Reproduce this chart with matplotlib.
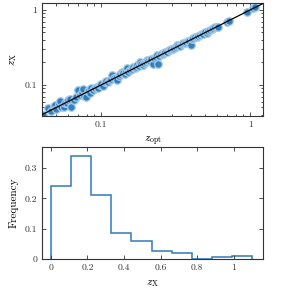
'''
Redshift comparison: scatter of z_X against z_opt and the z_X histogram.
'''

# Modules
from matplotlib import pyplot as plt
from matplotlib.ticker import FuncFormatter
import numpy as np

plt.rcParams.update({'font.family': 'serif',
                     'font.serif': ['cmr10'],
                     'mathtext.fontset': 'cm',
                     'axes.unicode_minus': False,
                     'axes.formatter.use_mathtext': True,
                     'xtick.direction': 'in',
                     'ytick.direction': 'in',
                     'xtick.top': True,
                     'ytick.right': True,
                     'axes.edgecolor': '#333333',
                     'xtick.color': '#333333',
                     'ytick.color': '#333333'})

z_opt = [0.041, 0.044, 0.046, 0.048, 0.049, 0.050, 0.052, 0.053, 0.054,
         0.056, 0.057, 0.059, 0.060, 0.062, 0.063, 0.066, 0.068, 0.070,
         0.072, 0.074, 0.076, 0.077, 0.079, 0.081, 0.083, 0.084, 0.086,
         0.088, 0.091, 0.093, 0.095, 0.098, 0.100, 0.103, 0.106, 0.108,
         0.111, 0.114, 0.117, 0.119, 0.122, 0.125, 0.128, 0.131, 0.134,
         0.138, 0.141, 0.144, 0.147, 0.149, 0.152, 0.156, 0.160, 0.164,
         0.168, 0.171, 0.174, 0.178, 0.183, 0.186, 0.190, 0.195, 0.199,
         0.203, 0.207, 0.212, 0.217, 0.223, 0.227, 0.232, 0.237, 0.241,
         0.246, 0.252, 0.258, 0.264, 0.270, 0.276, 0.283, 0.290, 0.296,
         0.303, 0.310, 0.317, 0.323, 0.330, 0.338, 0.346, 0.355, 0.363,
         0.372, 0.381, 0.390, 0.400, 0.408, 0.415, 0.425, 0.436, 0.447,
         0.460, 0.472, 0.484, 0.497, 0.510, 0.523, 0.536, 0.550, 0.565,
         0.580, 0.595, 0.610, 0.700, 0.715, 0.955, 1.040, 1.070]
z_x = [0.040, 0.049, 0.045, 0.052, 0.054, 0.047, 0.056, 0.061, 0.050,
       0.051, 0.058, 0.058, 0.063, 0.065, 0.051, 0.062, 0.070, 0.086,
       0.074, 0.078, 0.088, 0.072, 0.069, 0.083, 0.085, 0.078, 0.090,
       0.086, 0.091, 0.095, 0.092, 0.100, 0.104, 0.098, 0.108, 0.113,
       0.110, 0.117, 0.121, 0.136, 0.125, 0.122, 0.117, 0.133, 0.138,
       0.149, 0.143, 0.140, 0.155, 0.168, 0.150, 0.160, 0.163, 0.174,
       0.166, 0.172, 0.185, 0.178, 0.203, 0.188, 0.185, 0.198, 0.203,
       0.215, 0.206, 0.208, 0.222, 0.191, 0.230, 0.236, 0.251, 0.191,
       0.245, 0.258, 0.262, 0.270, 0.276, 0.272, 0.290, 0.293, 0.300,
       0.298, 0.312, 0.325, 0.341, 0.333, 0.330, 0.352, 0.363, 0.360,
       0.376, 0.384, 0.385, 0.341, 0.410, 0.423, 0.430, 0.438, 0.452,
       0.460, 0.478, 0.475, 0.505, 0.490, 0.528, 0.542, 0.556, 0.570,
       0.590, 0.598, 0.600, 0.690, 0.712, 0.940, 1.070, 1.090]

# histogram of z_X (fraction per bin)
bin_edges = [0.0, 0.11, 0.22, 0.33, 0.44, 0.55, 0.66, 0.77, 0.88, 0.99, 1.10]
freq = [0.241, 0.340, 0.210, 0.085, 0.058, 0.026, 0.021, 0.0, 0.005, 0.011]


def main():

    fig = plt.figure(figsize=(2.93, 2.89), dpi=100)
    fmt = FuncFormatter(lambda v, p: '%g' % v)

    ax1 = fig.add_axes([0.143, 0.599, 0.755, 0.391])
    ax1.scatter(z_opt, z_x, s=30, color='#2b7bba', edgecolors='#a9cdea',
                linewidths=0.9, alpha=0.95, zorder=2)
    lims = [0.04, 1.22]
    ax1.plot(lims, lims, color='k', linewidth=0.9, zorder=3)
    ax1.set_xscale('log')
    ax1.set_yscale('log')
    ax1.set_xlim(lims)
    ax1.set_ylim(0.0386, 1.24)
    ax1.xaxis.set_major_formatter(fmt)
    ax1.yaxis.set_major_formatter(fmt)
    ax1.xaxis.set_minor_formatter(FuncFormatter(lambda v, p: ''))
    ax1.yaxis.set_minor_formatter(FuncFormatter(lambda v, p: ''))
    ax1.set_xlabel(r'$z_{\rm opt}$', fontsize=8)
    ax1.set_ylabel(r'$z_{\rm X}$', fontsize=8)
    ax1.tick_params(which='both', labelsize=7, width=0.6)
    ax1.tick_params(which='major', length=3)
    ax1.tick_params(which='minor', length=1.8)

    ax2 = fig.add_axes([0.143, 0.104, 0.755, 0.387])
    ax2.stairs(freq, bin_edges, color='#2f7bbb', linewidth=1.1)
    ax2.set_xlim(-0.049, 1.16)
    ax2.set_ylim(0, 0.37)
    ax2.set_xticks([0, 0.2, 0.4, 0.6, 0.8, 1.0])
    ax2.set_yticks([0, 0.1, 0.2, 0.3])
    ax2.xaxis.set_major_formatter(fmt)
    ax2.yaxis.set_major_formatter(fmt)
    ax2.set_xlabel(r'$z_{\rm X}$', fontsize=8)
    ax2.set_ylabel('Frequency', fontsize=8)
    ax2.tick_params(labelsize=7, width=0.6, length=3)

    for ax in (ax1, ax2):
        for sp in ax.spines.values():
            sp.set_linewidth(0.8)

    plt.savefig('out.png', dpi=100)


if __name__ == '__main__':
    main()
